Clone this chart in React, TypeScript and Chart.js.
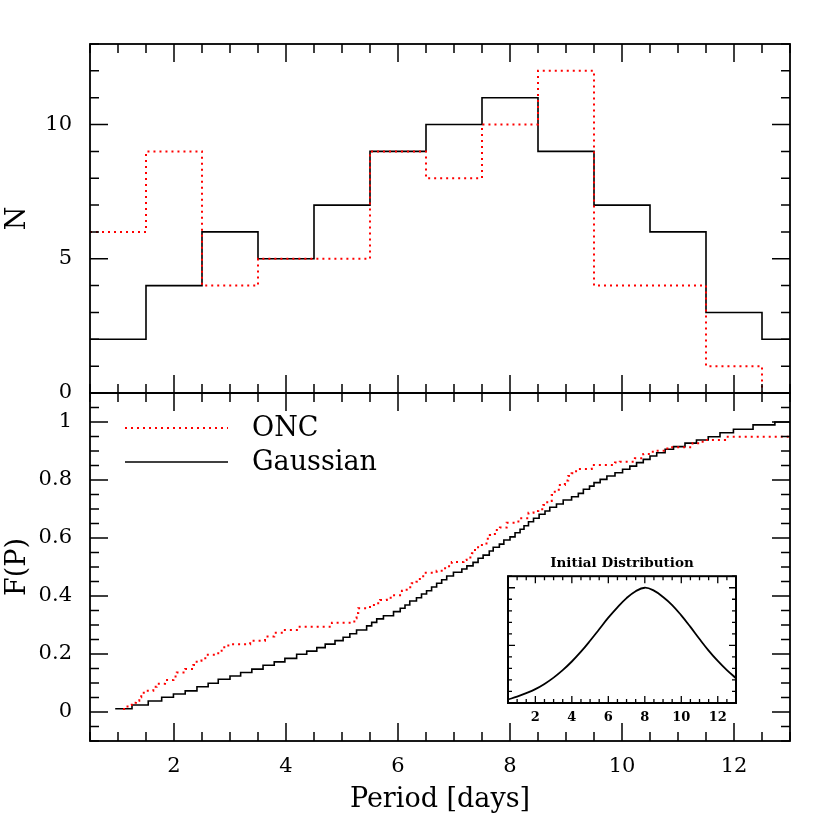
import React, { useEffect, useRef } from 'react';
import { Chart, registerables } from 'chart.js';

Chart.register(...registerables);

// ---------------- data ----------------
const binLeftEdges = [0.5, 1.5, 2.5, 3.5, 4.5, 5.5, 6.5, 7.5, 8.5, 9.5, 10.5, 11.5, 12.5];
const histRightEdge = 13;
const gaussianCounts = [2, 4, 6, 5, 7, 9, 10, 11, 9, 7, 6, 3, 2];
const oncCounts = [6, 9, 4, 5, 5, 9, 8, 10, 12, 4, 4, 1, 0];

const gaussCdfX = [0.95, 1.25, 1.54, 1.78, 1.99, 2.2, 2.41, 2.61, 2.79, 3.0, 3.19, 3.39, 3.59, 3.79, 3.98, 4.19, 4.37, 4.55, 4.7, 4.875, 5.02, 5.14, 5.26, 5.44, 5.53, 5.62, 5.74, 5.92, 6.04, 6.125, 6.21, 6.33, 6.42, 6.51, 6.6, 6.69, 6.78, 6.87, 6.99, 7.14, 7.23, 7.34, 7.43, 7.52, 7.63, 7.7, 7.81, 7.89, 8.0, 8.09, 8.18, 8.25, 8.33, 8.42, 8.52, 8.625, 8.71, 8.83, 8.95, 9.1, 9.22, 9.31, 9.42, 9.5, 9.61, 9.73, 9.875, 10.01, 10.14, 10.26, 10.38, 10.5, 10.62, 10.77, 10.92, 11.125, 11.33, 11.54, 11.75, 11.99, 12.34, 12.73, 13.0];
const gaussCdfY = [0.011, 0.024, 0.038, 0.051, 0.062, 0.073, 0.087, 0.099, 0.113, 0.124, 0.136, 0.148, 0.161, 0.173, 0.185, 0.199, 0.21, 0.222, 0.234, 0.246, 0.258, 0.27, 0.283, 0.297, 0.309, 0.321, 0.332, 0.346, 0.358, 0.369, 0.383, 0.394, 0.407, 0.418, 0.431, 0.444, 0.456, 0.469, 0.482, 0.493, 0.504, 0.516, 0.53, 0.541, 0.555, 0.568, 0.579, 0.593, 0.604, 0.618, 0.63, 0.642, 0.656, 0.668, 0.682, 0.693, 0.706, 0.717, 0.731, 0.742, 0.754, 0.768, 0.779, 0.791, 0.802, 0.814, 0.825, 0.837, 0.848, 0.86, 0.871, 0.883, 0.894, 0.906, 0.915, 0.927, 0.938, 0.949, 0.963, 0.975, 0.99, 1.0, 1.0];

const oncCdfX = [1.09, 1.17, 1.245, 1.32, 1.38, 1.415, 1.46, 1.63, 1.69, 1.84, 1.99, 2.05, 2.2, 2.345, 2.405, 2.49, 2.58, 2.79, 2.85, 2.97, 3.36, 3.625, 3.79, 3.95, 4.22, 4.82, 5.22, 5.26, 5.29, 5.5, 5.59, 5.68, 5.8, 5.89, 6.07, 6.155, 6.245, 6.33, 6.39, 6.45, 6.69, 6.78, 6.87, 6.96, 7.17, 7.225, 7.32, 7.375, 7.43, 7.58, 7.64, 7.73, 7.82, 7.94, 8.15, 8.33, 8.42, 8.505, 8.595, 8.665, 8.745, 8.8, 8.89, 8.98, 9.04, 9.1, 9.18, 9.46, 9.875, 9.96, 10.23, 10.38, 10.55, 10.81, 11.26, 11.36, 11.48, 11.84, 13.0];
const oncCdfY = [0.01, 0.024, 0.032, 0.039, 0.051, 0.062, 0.073, 0.087, 0.097, 0.11, 0.122, 0.136, 0.148, 0.162, 0.177, 0.185, 0.197, 0.211, 0.223, 0.234, 0.246, 0.26, 0.273, 0.283, 0.294, 0.308, 0.323, 0.341, 0.358, 0.369, 0.375, 0.386, 0.394, 0.403, 0.418, 0.43, 0.444, 0.449, 0.464, 0.48, 0.487, 0.496, 0.503, 0.517, 0.524, 0.533, 0.547, 0.564, 0.576, 0.597, 0.61, 0.628, 0.636, 0.653, 0.668, 0.687, 0.693, 0.699, 0.714, 0.728, 0.748, 0.766, 0.783, 0.798, 0.814, 0.823, 0.838, 0.852, 0.86, 0.863, 0.875, 0.89, 0.901, 0.913, 0.927, 0.932, 0.938, 0.949, 0.949];

const initPeriods = [0.5, 1, 1.5, 2, 2.5, 3, 3.5, 4, 4.5, 5, 5.5, 6, 6.5, 7, 7.5, 8, 8.5, 9, 9.5, 10, 10.5, 11, 11.5, 12, 12.5, 13];
const initDensity = [0.03, 0.055, 0.085, 0.12, 0.165, 0.22, 0.285, 0.36, 0.445, 0.54, 0.64, 0.74, 0.83, 0.91, 0.97, 1.0, 0.975, 0.92, 0.85, 0.76, 0.66, 0.555, 0.455, 0.365, 0.285, 0.215];

const periodTickLabels = [2, 4, 6, 8, 10, 12];
const nTickLabels = [0, 5, 10];
const fTickLabels = [0, 0.2, 0.4, 0.6, 0.8, 1];
const insetTickLabels = [2, 4, 6, 8, 10, 12];
const legendLabels = ['ONC', 'Gaussian'];

// ---------------- helpers ----------------
const SERIF = "'DejaVu Serif', serif";

function steps(a: number, b: number, step: number): number[] {
  const out: number[] = [];
  const n = Math.round((b - a) / step);
  for (let i = 0; i <= n; i++) out.push(+(a + i * step).toFixed(6));
  return out;
}

function histPoints(counts: number[]) {
  const pts = binLeftEdges.map((x, i) => ({ x, y: counts[i] }));
  pts.push({ x: histRightEdge, y: counts[counts.length - 1] });
  return pts;
}

function pairPoints(xs: number[], ys: number[]) {
  return xs.map((x, i) => ({ x, y: ys[i] }));
}

type TickCfg = {
  xMinor: number[]; xMajor: number[];
  yMinor: number[]; yMajor: number[];
  majorLen: number; minorLen: number;
  sides: { top: boolean; bottom: boolean; left: boolean; right: boolean };
  lineWidth: number; frameWidth: number;
  fillWhite?: boolean;
};

function frameTicksPlugin(cfg: TickCfg) {
  const isMajor = (v: number, majors: number[]) => majors.some((m) => Math.abs(m - v) < 1e-6);
  return {
    id: 'frameTicks',
    beforeDatasetsDraw(chart: any) {
      if (!cfg.fillWhite) return;
      const { ctx, chartArea } = chart;
      ctx.save();
      ctx.fillStyle = '#fff';
      ctx.fillRect(chartArea.left, chartArea.top, chartArea.right - chartArea.left, chartArea.bottom - chartArea.top);
      ctx.restore();
    },
    afterDatasetsDraw(chart: any) {
      const { ctx, chartArea } = chart;
      const { left, right, top, bottom } = chartArea;
      const xs = chart.scales.x;
      const ys = chart.scales.y;
      ctx.save();
      ctx.strokeStyle = '#000';
      ctx.lineWidth = cfg.lineWidth;
      ctx.beginPath();
      cfg.xMinor.forEach((v) => {
        const len = isMajor(v, cfg.xMajor) ? cfg.majorLen : cfg.minorLen;
        const px = xs.getPixelForValue(v);
        if (cfg.sides.bottom) { ctx.moveTo(px, bottom); ctx.lineTo(px, bottom - len); }
        if (cfg.sides.top) { ctx.moveTo(px, top); ctx.lineTo(px, top + len); }
      });
      cfg.yMinor.forEach((v) => {
        const len = isMajor(v, cfg.yMajor) ? cfg.majorLen : cfg.minorLen;
        const py = ys.getPixelForValue(v);
        if (cfg.sides.left) { ctx.moveTo(left, py); ctx.lineTo(left + len, py); }
        if (cfg.sides.right) { ctx.moveTo(right, py); ctx.lineTo(right - len, py); }
      });
      ctx.stroke();
      ctx.lineWidth = cfg.frameWidth;
      ctx.strokeRect(left, top, right - left, bottom - top);
      ctx.restore();
    },
  };
}

const legendPlugin = {
  id: 'insideLegend',
  afterDatasetsDraw(chart: any) {
    const { ctx, chartArea } = chart;
    const ds = chart.data.datasets;
    const rows = [
      { d: ds[0], text: legendLabels[0], y: chartArea.top + 35 },
      { d: ds[1], text: legendLabels[1], y: chartArea.top + 69 },
    ];
    ctx.save();
    rows.forEach((r) => {
      ctx.beginPath();
      ctx.strokeStyle = r.d.borderColor;
      ctx.lineWidth = r.d.borderWidth;
      ctx.setLineDash(r.d.borderDash || []);
      ctx.moveTo(chartArea.left + 35, r.y);
      ctx.lineTo(chartArea.left + 138, r.y);
      ctx.stroke();
      ctx.setLineDash([]);
      ctx.fillStyle = '#000';
      ctx.font = `27px ${SERIF}`;
      ctx.textBaseline = 'middle';
      ctx.textAlign = 'left';
      ctx.fillText(r.text, chartArea.left + 162, r.y + 1);
    });
    ctx.restore();
  },
};

const tickFont = { family: SERIF, size: 21 };
const titleFont = { family: SERIF, size: 27 };
const plainNumber = (v: any) => String(v);

export default function App() {
  const topRef = useRef<HTMLCanvasElement>(null);
  const botRef = useRef<HTMLCanvasElement>(null);
  const insetRef = useRef<HTMLCanvasElement>(null);

  useEffect(() => {
    document.body.style.margin = '0';
    const xMinor = steps(0.5, 13, 0.5);
    const xMajor = periodTickLabels;

    const topChart = new Chart(topRef.current as HTMLCanvasElement, {
      type: 'line',
      data: {
        datasets: [
          { label: 'ONC', data: histPoints(oncCounts), borderColor: '#ff0000', borderWidth: 2, borderDash: [2, 4], stepped: 'before', pointRadius: 0, fill: false } as any,
          { label: 'Gaussian', data: histPoints(gaussianCounts), borderColor: '#000', borderWidth: 1.6, stepped: 'before', pointRadius: 0, fill: false } as any,
        ],
      },
      options: {
        responsive: false,
        animation: false,
        events: [],
        layout: { padding: { top: 44, right: 40, bottom: 437, left: 0 } },
        plugins: { legend: { display: false }, tooltip: { enabled: false } },
        scales: {
          x: { type: 'linear', min: 0.5, max: 13, display: false },
          y: {
            type: 'linear', min: 0, max: 13,
            afterFit: (s: any) => { s.width = 90; },
            afterBuildTicks: (s: any) => { s.ticks = nTickLabels.map((v) => ({ value: v })); },
            grid: { display: false, drawTicks: false },
            border: { display: false },
            ticks: { padding: 18, color: '#000', font: tickFont, callback: plainNumber },
            title: { display: true, text: 'N', color: '#000', font: titleFont, padding: { top: 2, bottom: 0 } },
          },
        },
      } as any,
      plugins: [frameTicksPlugin({
        xMinor, xMajor, yMinor: steps(0, 13, 1), yMajor: nTickLabels,
        majorLen: 18, minorLen: 9,
        sides: { top: true, bottom: true, left: true, right: true },
        lineWidth: 1.5, frameWidth: 1.8,
      })],
    });

    const botChart = new Chart(botRef.current as HTMLCanvasElement, {
      type: 'line',
      data: {
        datasets: [
          { label: 'ONC', data: pairPoints(oncCdfX, oncCdfY), borderColor: '#ff0000', borderWidth: 2, borderDash: [2, 4], stepped: 'before', pointRadius: 0, fill: false } as any,
          { label: 'Gaussian', data: pairPoints(gaussCdfX, gaussCdfY), borderColor: '#000', borderWidth: 1.6, stepped: 'before', pointRadius: 0, fill: false } as any,
        ],
      },
      options: {
        responsive: false,
        animation: false,
        events: [],
        layout: { padding: { top: 393, right: 40, bottom: 0, left: 0 } },
        plugins: { legend: { display: false }, tooltip: { enabled: false } },
        scales: {
          x: {
            type: 'linear', min: 0.5, max: 13,
            afterFit: (s: any) => { s.height = 89; },
            afterBuildTicks: (s: any) => { s.ticks = periodTickLabels.map((v) => ({ value: v })); },
            grid: { display: false, drawTicks: false },
            border: { display: false },
            ticks: { padding: 13, color: '#000', font: tickFont, maxRotation: 0, callback: plainNumber },
            title: { display: true, text: 'Period [days]', color: '#000', font: titleFont, padding: { top: 0, bottom: 14 } },
          },
          y: {
            type: 'linear', min: -0.1, max: 1.1,
            afterFit: (s: any) => { s.width = 90; },
            afterBuildTicks: (s: any) => { s.ticks = fTickLabels.map((v) => ({ value: v })); },
            grid: { display: false, drawTicks: false },
            border: { display: false },
            ticks: { padding: 18, color: '#000', font: tickFont, callback: plainNumber },
            title: { display: true, text: 'F(P)', color: '#000', font: titleFont, padding: { top: 2, bottom: 0 } },
          },
        },
      } as any,
      plugins: [frameTicksPlugin({
        xMinor, xMajor, yMinor: steps(-0.1, 1.1, 0.05), yMajor: fTickLabels,
        majorLen: 18, minorLen: 9,
        sides: { top: true, bottom: true, left: true, right: true },
        lineWidth: 1.5, frameWidth: 1.8,
      }), legendPlugin],
    });

    const insetChart = new Chart(insetRef.current as HTMLCanvasElement, {
      type: 'line',
      data: {
        datasets: [
          { label: 'Initial Distribution', data: pairPoints(initPeriods, initDensity), borderColor: '#000', borderWidth: 1.8, pointRadius: 0, fill: false, tension: 0.4 } as any,
        ],
      },
      options: {
        responsive: false,
        animation: false,
        events: [],
        layout: { padding: { top: 550, right: 94, bottom: 95, left: 508 } },
        plugins: {
          legend: { display: false }, tooltip: { enabled: false },
          title: { display: true, fullSize: false, text: 'Initial Distribution', color: '#000', font: { family: SERIF, size: 13.5, weight: 'bold' }, padding: { top: 5, bottom: 5 } },
        },
        scales: {
          x: {
            type: 'linear', min: 0.5, max: 13,
            afterFit: (s: any) => { s.height = 32; },
            afterBuildTicks: (s: any) => { s.ticks = insetTickLabels.map((v) => ({ value: v })); },
            grid: { display: false, drawTicks: false },
            border: { display: false },
            ticks: { padding: 7, color: '#000', font: { family: SERIF, size: 13, weight: 'bold' }, maxRotation: 0, callback: plainNumber },
          },
          y: { type: 'linear', min: 0, max: 1.1, display: false },
        },
      } as any,
      plugins: [frameTicksPlugin({
        xMinor: steps(0.5, 13, 0.5), xMajor: insetTickLabels, yMinor: steps(0, 1.1, 0.1), yMajor: [0.5, 1.0],
        majorLen: 7, minorLen: 4,
        sides: { top: true, bottom: true, left: true, right: true },
        lineWidth: 1.3, frameWidth: 2, fillWhite: true,
      })],
    });

    return () => {
      topChart.destroy();
      botChart.destroy();
      insetChart.destroy();
    };
  }, []);

  const cs: React.CSSProperties = { position: 'absolute', left: 0, top: 0, width: 830, height: 830 };
  return (
    <div style={{ position: 'relative', width: 830, height: 830, background: '#fff' }}>
      <canvas ref={botRef} width={830} height={830} style={cs} />
      <canvas ref={topRef} width={830} height={830} style={cs} />
      <canvas ref={insetRef} width={830} height={830} style={cs} />
    </div>
  );
}
